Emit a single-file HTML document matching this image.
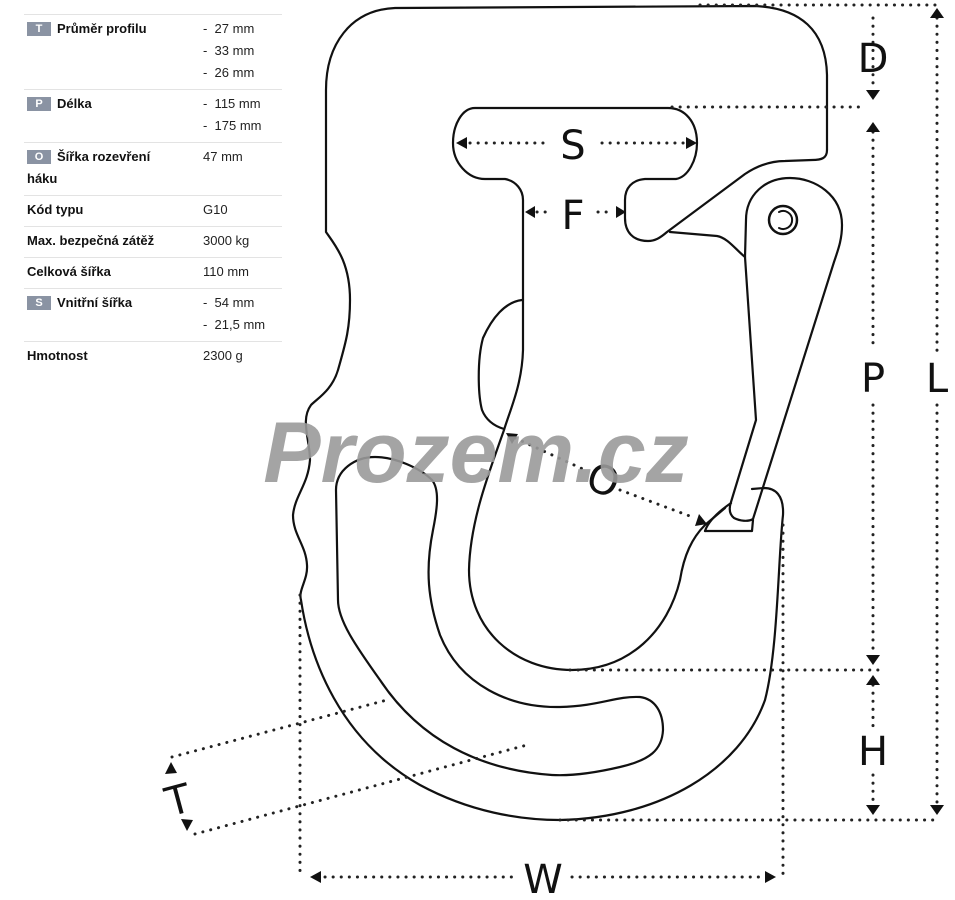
<!DOCTYPE html>
<html><head><meta charset="utf-8"><style>
html,body{margin:0;padding:0;background:#fff;width:955px;height:900px;overflow:hidden}
body{position:relative;font-family:"Liberation Sans",sans-serif;color:#111}
.ln{position:absolute;left:24px;width:258px;height:1px;background:#e3e3e3}
.lb{position:absolute;left:27px;font-size:13px;font-weight:bold;line-height:16px}
.v{position:absolute;left:203px;font-size:13px;line-height:16px;color:#222}
.bd{display:inline-block;width:24px;height:14px;background:#8a93a3;color:#fff;font-size:11px;text-align:center;line-height:14px;margin-right:6px;vertical-align:1px}
</style></head><body>
<div class="ln" style="top:14px"></div>
<div class="ln" style="top:89px"></div>
<div class="ln" style="top:142px"></div>
<div class="ln" style="top:195px"></div>
<div class="ln" style="top:226px"></div>
<div class="ln" style="top:257px"></div>
<div class="ln" style="top:288px"></div>
<div class="ln" style="top:341px"></div>

<div class="lb" style="top:21px"><span class="bd">T</span>Průměr profilu</div>
<div class="v" style="top:21px">-&nbsp; 27 mm</div>
<div class="v" style="top:43px">-&nbsp; 33 mm</div>
<div class="v" style="top:65px">-&nbsp; 26 mm</div>
<div class="lb" style="top:96px"><span class="bd">P</span>Délka</div>
<div class="v" style="top:96px">-&nbsp; 115 mm</div>
<div class="v" style="top:118px">-&nbsp; 175 mm</div>
<div class="lb" style="top:149px"><span class="bd">O</span>Šířka rozevření</div>
<div class="lb" style="top:171px">háku</div>
<div class="v" style="top:149px">47 mm</div>
<div class="lb" style="top:202px">Kód typu</div>
<div class="v" style="top:202px">G10</div>
<div class="lb" style="top:233px">Max. bezpečná zátěž</div>
<div class="v" style="top:233px">3000 kg</div>
<div class="lb" style="top:264px">Celková šířka</div>
<div class="v" style="top:264px">110 mm</div>
<div class="lb" style="top:295px"><span class="bd">S</span>Vnitřní šířka</div>
<div class="v" style="top:295px">-&nbsp; 54 mm</div>
<div class="v" style="top:317px">-&nbsp; 21,5 mm</div>
<div class="lb" style="top:348px">Hmotnost</div>
<div class="v" style="top:348px">2300 g</div>

<svg width="955" height="900" style="position:absolute;left:0;top:0" xmlns="http://www.w3.org/2000/svg">
<g fill="none" stroke="#111" stroke-width="2.2" stroke-linejoin="round" stroke-linecap="round">
<path d="M827,150 L827,75 C826,30 800,8 755,6 L395,8 C350,10 326,45 326,90 L326,232 C335,245 350,262 350,300 C350,330 345,345 338,370 C332,390 318,398 311,405 C300,420 310,440 310,460 C308,485 295,495 293,515 C293,535 306,545 307,565 C308,580 298,590 301,600 C310,660 340,740 420,785 C470,812 520,820 560,820 C660,818 740,770 765,700 C778,650 778,560 783,515 C784,495 775,488 764,488 L752,489"/>
<path d="M827,150 C827,158 822,160 812,160 L785,161 C770,161 757,166 745,174 L667,232 C660,238 655,241 648,241 C633,241 625,232 625,218 L625,200 C625,188 632,180 645,179 L676,179 C688,177 697,160 697,143 C697,122 685,108 668,108 L475,108 C462,108 453,125 453,143 C453,163 468,179 485,179 L505,179 C516,181 523,190 523,200 L523,300"/>
<path d="M670,232 L717,236 C728,238 736,250 745,257"/>
<path d="M523,300 L523,350 C522,385 510,410 504,430 C490,470 470,520 469,570 C469,630 515,670 572,670 C630,670 668,630 680,580 C684,555 692,538 705,525 L725,508"/>
<path d="M522,300 C505,302 492,318 483,338 C477,360 478,395 482,410 C486,420 494,426 504,429"/>
<path d="M338,600 L336,490 C336,470 355,457 375,457 C395,457 420,468 432,480 C440,490 437,510 433,530 C425,570 428,600 440,635 C460,685 510,708 560,707 C600,706 615,696 640,697 C655,699 663,712 663,730 C662,750 650,760 620,767 C590,774 570,776 552,775 C480,770 420,740 380,680 C355,645 338,620 338,600"/>
<path d="M745,257 L746,220 C746,195 765,178 790,178 C815,178 842,195 842,225 C842,240 838,250 834,262 L753,519 C748,522 740,521 734,518 C729,514 729,508 731,502 L756,420 L745,257 Z"/>
<circle cx="783" cy="220" r="14" stroke-width="2.5"/>
<path d="M779,212 A9,9 0 1 1 779,228" stroke-width="2"/>
<path d="M705,531 L752,531 L753,520"/>
<path d="M705,531 C708,522 718,512 731,503"/>
</g>
<g fill="none" stroke="#222" stroke-width="3" stroke-dasharray="0.1 8" stroke-linecap="round">
<path d="M700,5 L940,5"/>
<path d="M672,107 L865,107"/>
<path d="M570,670 L880,670"/>
<path d="M560,820 L940,820"/>
<path d="M873,18 L873,90"/>
<path d="M873,132 L873,350"/><path d="M873,405 L873,655"/>
<path d="M873,685 L873,730"/><path d="M873,775 L873,805"/>
<path d="M937,18 L937,355"/><path d="M937,405 L937,805"/>
<path d="M300,595 L300,877"/>
<path d="M783,525 L783,877"/>
<path d="M325,877 L515,877"/><path d="M572,877 L762,877"/>
<path d="M470,143 L545,143"/><path d="M602,143 L685,143"/>
<path d="M537,212 L550,212"/><path d="M598,212 L612,212"/>
<path d="M515,438 L585,470"/><path d="M620,490 L695,518"/>
<path d="M172,757 L387,700"/>
<path d="M195,834 L527,745"/>
</g>
<g fill="#111">
<polygon points="866,90 880,90 873,100"/>
<polygon points="866,132 880,132 873,122"/>
<polygon points="866,655 880,655 873,665"/>
<polygon points="866,685 880,685 873,675"/>
<polygon points="866,805 880,805 873,815"/>
<polygon points="930,18 944,18 937,8"/>
<polygon points="930,805 944,805 937,815"/>
<polygon points="310,877 321,871 321,883"/>
<polygon points="776,877 765,871 765,883"/>
<polygon points="456,143 467,137 467,149"/>
<polygon points="697,143 686,137 686,149"/>
<polygon points="525,212 535,206 535,218"/>
<polygon points="626,212 616,206 616,218"/>
<polygon points="506,433 518,434 512,444"/>
<polygon points="707,524 695,526 699,514"/>
<polygon points="171,762 165,774 177,773"/>
<polygon points="187,831 181,819 193,820"/>
</g>
<g font-family="'DejaVu Sans','Liberation Sans',sans-serif" font-size="40" fill="#111" text-anchor="middle">
<text x="873" y="72">D</text>
<text x="873" y="392">P</text>
<text x="873" y="765">H</text>
<text x="937" y="392">L</text>
<text x="543" y="893">W</text>
<text x="573" y="159">S</text>
<text x="573" y="229">F</text>
<text x="603" y="494" transform="rotate(20 603 481)">O</text>
<text x="178" y="814" transform="rotate(-15 178 800)">T</text>
</g>
<text x="476" y="482" text-anchor="middle" font-family="'Liberation Sans',sans-serif" font-weight="bold" font-style="italic" font-size="86" fill="#9a9a9a" fill-opacity="0.9">Prozem.cz</text>
</svg>
</body></html>
